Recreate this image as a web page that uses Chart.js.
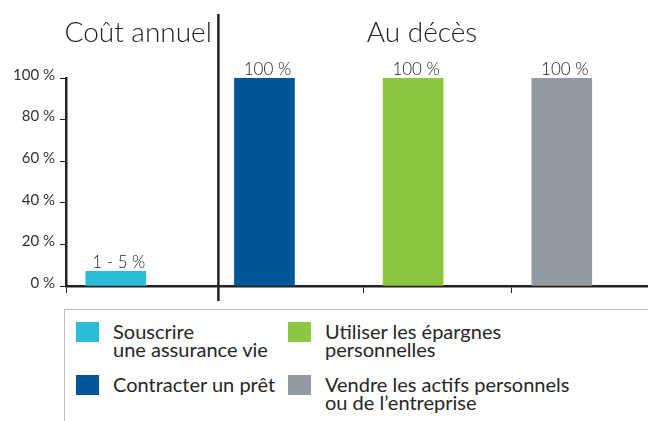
<!DOCTYPE html>
<html>
<head>
<meta charset="utf-8">
<script src="https://cdn.jsdelivr.net/npm/chart.js@4"></script>
<style>
  body { margin: 0; background: #fff; font-family: Lato, "Open Sans", sans-serif; }
  #wrap { position: relative; width: 648px; height: 421px; overflow: hidden; }
  #chart { position: absolute; left: 0; top: 0; }
  #legend {
    position: absolute; left: 64px; top: 309px; width: 600px; height: 130px;
    border-top: 1.5px solid #bcbcbc; border-left: 1.5px solid #bcbcbc;
  }
  .item { position: absolute; display: flex; align-items: flex-start; color: #262626;
    font-size: 20px; line-height: 18px; }
  .sw { width: 23px; height: 20px; margin-right: 14px; flex: none; }
  .lbl { white-space: pre; }
</style>
</head>
<body>
<div id="wrap">
  <canvas id="chart" width="648" height="305"></canvas>
  <div id="legend"></div>
</div>
<script>
// data
const categories = [
  "Souscrire\nune assurance vie",
  "Contracter un prêt",
  "Utiliser les épargnes\npersonnelles",
  "Vendre les actifs personnels\nou de l’entreprise"
];
const values = [7, 100, 100, 100];
const valueLabels = ["1 - 5 %", "100 %", "100 %", "100 %"];
const colors = ["#2bbcd8", "#005596", "#8dc63f", "#949aa1"];
const yTicks = [0, 20, 40, 60, 80, 100];
const sectionTitles = ["Coût annuel", "Au décès"];
// legend grid order: column, row
const legendSpots = [[0, 0], [0, 1], [1, 0], [1, 1]];

const ink = "#222";

const decorations = {
  id: "decorations",
  afterDraw(chart) {
    const ctx = chart.ctx;
    const x = chart.scales.x;
    const area = chart.chartArea;
    // divider between the two sections
    const divX = x.getPixelForValue(1.69);
    ctx.save();
    ctx.strokeStyle = ink;
    ctx.lineWidth = 2.5;
    ctx.beginPath();
    ctx.moveTo(divX, 14);
    ctx.lineTo(divX, 301);
    ctx.stroke();

    // section titles
    ctx.fillStyle = ink;
    ctx.font = "300 28px Lato";
    ctx.textAlign = "center";
    ctx.textBaseline = "alphabetic";
    ctx.fillText(sectionTitles[0], (area.left + divX) / 2 - 4, 42);
    ctx.fillText(sectionTitles[1], x.getPixelForValue(3.06), 42);

    // value labels above bars
    ctx.font = "300 17px Lato";
    const meta = chart.getDatasetMeta(0);
    meta.data.forEach((bar, i) => {
      ctx.fillText(valueLabels[i], bar.x + 3, bar.y - 3);
    });
    ctx.restore();
  }
};

new Chart(document.getElementById("chart"), {
  type: "bar",
  data: {
    datasets: [{
      data: values.map((v, i) => ({ x: i + 1, y: v })),
      backgroundColor: colors,
      barThickness: 60
    }]
  },
  options: {
    responsive: false,
    animation: false,
    layout: { padding: { top: 78, right: 0, left: 0, bottom: 0 } },
    plugins: { legend: { display: false }, tooltip: { enabled: false } },
    scales: {
      x: {
        type: "linear",
        offset: false,
        min: 0.665,
        max: 4.58,
        afterBuildTicks: (s) => { s.ticks = [0.67, 2.665, 3.665].map(v => ({ value: v })); },
        afterFit: (s) => { s.height = 19; },
        ticks: { display: false },
        grid: { offset: false, drawOnChartArea: false, drawTicks: true, tickLength: 7, color: ink, lineWidth: 1 },
        border: { color: ink, width: 2.5 }
      },
      y: {
        min: 0,
        max: 100,
        afterBuildTicks: (s) => { s.ticks = yTicks.map(v => ({ value: v })); },
        afterFit: (s) => { s.width = 66; },
        ticks: {
          color: "#333",
          font: { family: "Lato", size: 15 },
          padding: 5,
          labelOffset: -3,
          callback: (v) => v + " %"
        },
        grid: { drawOnChartArea: false, drawTicks: true, tickLength: 6, color: ink, lineWidth: 1 },
        border: { color: ink, width: 2.5 }
      }
    }
  },
  plugins: [decorations]
});

// legend built from the same arrays
const legend = document.getElementById("legend");
categories.forEach((c, i) => {
  const [col, row] = legendSpots[i];
  const item = document.createElement("div");
  item.className = "item";
  item.style.left = (11 + col * 212) + "px";
  item.style.top = (12 + row * 53) + "px";
  item.innerHTML = '<div class="sw" style="background:' + colors[i] + '"></div>';
  const lbl = document.createElement("div");
  lbl.className = "lbl";
  lbl.textContent = c;
  item.appendChild(lbl);
  legend.appendChild(item);
});
</script>
</body>
</html>
